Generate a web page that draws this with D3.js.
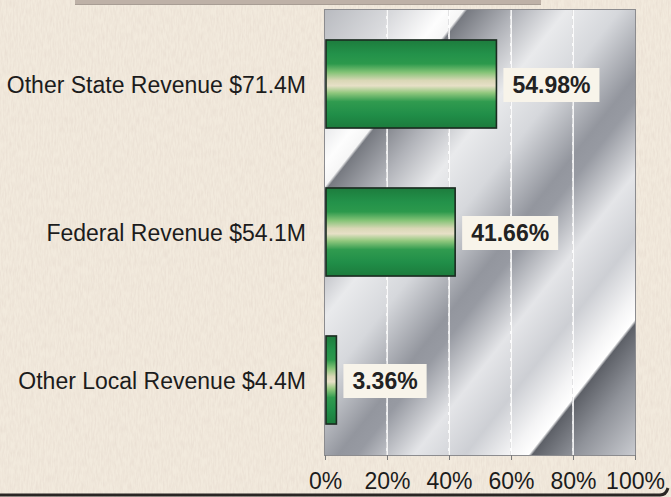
<!DOCTYPE html>
<html>
<head>
<meta charset="utf-8">
<script src="https://cdn.jsdelivr.net/npm/d3@7"></script>
<style>
  html, body { margin: 0; padding: 0; background: #f2eadd; }
  svg { display: block; }
</style>
</head>
<body>
<div id="container"></div>
<script>
// revenue share by source
const categories = ["Other State Revenue $71.4M", "Federal Revenue $54.1M", "Other Local Revenue $4.4M"];
const shares = [54.98, 41.66, 3.36];
const tickValues = [0, 20, 40, 60, 80, 100];

// constants
const width = 671,
  height = 497,
  plot = { left: 325, right: 635, top: 10, bottom: 455 };

const data = categories.map((c, i) => ({ category: c, share: shares[i] }));

const svg = d3.select("#container")
  .append("svg")
  .attr("width", width)
  .attr("height", height)
  .style("font-family", "'Liberation Sans', Arial, sans-serif");

const defs = svg.append("defs");

// linen-ish paper texture
const paper = defs.append("filter").attr("id", "paper")
  .attr("x", 0).attr("y", 0).attr("width", "100%").attr("height", "100%");
paper.append("feTurbulence")
  .attr("type", "fractalNoise")
  .attr("baseFrequency", "0.6 0.12")
  .attr("numOctaves", 2)
  .attr("seed", 4);
paper.append("feColorMatrix")
  .attr("values", "0 0 0 0 0.62  0 0 0 0 0.5  0 0 0 0 0.45  0 0 0 -1.1 0.75");

// metallic diagonal backdrop of the plot area
const t = d => d / 519;
const nx = 0.786, ny = 0.618;
const metal = defs.append("linearGradient").attr("id", "metal")
  .attr("gradientUnits", "userSpaceOnUse")
  .attr("x1", plot.left).attr("y1", plot.top)
  .attr("x2", plot.left + nx * 519).attr("y2", plot.top + ny * 519);
[
  [0, "#b9bbc0"], [55, "#d9dadd"], [95, "#fdfdfd"], [109, "#f6f6f6"],
  [112, "#777a81"], [150, "#b1b3b9"], [190, "#e9eaec"], [232, "#d6d8dc"],
  [285, "#93969e"], [300, "#979aa2"], [345, "#e4e5e8"], [385, "#cdcfd4"], [420, "#f4f4f5"],
  [435, "#ffffff"], [438, "#5e6168"], [470, "#8f9299"], [519, "#c9cbd0"]
].forEach(([o, c]) => metal.append("stop").attr("offset", t(o)).attr("stop-color", c));

// green tube look of the bars
const tube = defs.append("linearGradient").attr("id", "tube")
  .attr("x1", 0).attr("y1", 0).attr("x2", 0).attr("y2", 1);
[
  [0, "#1d7c3d"], [0.16, "#23924a"], [0.27, "#2c994c"], [0.37, "#86c478"],
  [0.46, "#d9d7b6"], [0.52, "#e7e0c7"], [0.6, "#92c87e"], [0.7, "#309b4f"],
  [0.85, "#208e48"], [1, "#1c7b3c"]
].forEach(([o, c]) => tube.append("stop").attr("offset", o).attr("stop-color", c));

// background
svg.append("rect").attr("width", width).attr("height", height).attr("fill", "#f2eadd");
svg.append("rect").attr("width", width).attr("height", height).attr("filter", "url(#paper)").attr("opacity", 0.35);

// edge of a title box above, cut off by the crop
svg.append("rect").attr("x", 75).attr("y", 0).attr("width", 466).attr("height", 4).attr("fill", "#beb1a7");
svg.append("line").attr("x1", 75).attr("x2", 541).attr("y1", 4.5).attr("y2", 4.5).attr("stroke", "#a89d94");

// frame bottom edge
svg.append("path")
  .attr("d", `M0,495 L660,495 Q666,495 668,488`)
  .attr("fill", "none").attr("stroke", "#2a2624").attr("stroke-width", 3);

// scales
const xScale = d3.scaleLinear()
  .domain([0, 100])
  .range([plot.left, plot.right]);

const yScale = d3.scaleBand()
  .domain(categories)
  .range([plot.top, plot.bottom - 1])
  .paddingInner(0.405)
  .paddingOuter(0.2025);

// plot area
svg.append("rect")
  .attr("x", plot.left).attr("y", plot.top)
  .attr("width", plot.right - plot.left).attr("height", plot.bottom - plot.top)
  .attr("fill", "url(#metal)");

// gridlines
const grid = svg.append("g").attr("class", "grid");
grid.selectAll("line.gw")
  .data(tickValues.slice(1, -1))
  .join("line")
  .attr("class", "gw")
  .attr("x1", d => xScale(d)).attr("x2", d => xScale(d))
  .attr("y1", plot.top).attr("y2", plot.bottom)
  .attr("stroke", "#ffffff").attr("stroke-width", 2).attr("opacity", 0.85);
grid.selectAll("line.gd")
  .data(tickValues.slice(1, -1))
  .join("line")
  .attr("class", "gd")
  .attr("x1", d => xScale(d) - 0.5).attr("x2", d => xScale(d) - 0.5)
  .attr("y1", plot.top).attr("y2", plot.bottom)
  .attr("stroke", "#8e8f94").attr("stroke-width", 0.6).attr("opacity", 0.4)
  .attr("stroke-dasharray", "6,3");

svg.append("rect")
  .attr("x", plot.left - 0.5).attr("y", plot.top - 0.5)
  .attr("width", plot.right - plot.left + 1).attr("height", plot.bottom - plot.top + 1)
  .attr("fill", "none").attr("stroke", "#8c8c8f").attr("stroke-width", 1);

// bars
svg.selectAll(".bar")
  .data(data)
  .join("rect")
  .attr("class", "bar")
  .attr("x", xScale(0) + 1)
  .attr("y", d => yScale(d.category))
  .attr("width", d => xScale(d.share) - xScale(0))
  .attr("height", yScale.bandwidth())
  .attr("fill", "url(#tube)")
  .attr("stroke", "#1b2a20")
  .attr("stroke-width", 1.6);

// value labels in boxes
const labels = svg.selectAll(".value")
  .data(data)
  .join("g")
  .attr("class", "value")
  .attr("transform", d => `translate(${xScale(d.share) + 8}, ${yScale(d.category) + yScale.bandwidth() / 2 + 1})`);

labels.append("rect")
  .attr("fill", "#f8f4ea");

labels.append("text")
  .attr("x", 9)
  .attr("dy", "0.36em")
  .attr("font-size", 23)
  .attr("font-weight", "bold")
  .attr("fill", "#222")
  .text(d => d.share.toFixed(2) + "%");

labels.each(function () {
  const g = d3.select(this);
  const w = g.select("text").node().getBBox().width;
  g.select("rect")
    .attr("x", 0).attr("y", -17)
    .attr("width", w + 18).attr("height", 34);
});

// category labels
svg.selectAll(".cat")
  .data(data)
  .join("text")
  .attr("class", "cat")
  .attr("x", 306)
  .attr("y", d => yScale(d.category) + yScale.bandwidth() / 2 + 1)
  .attr("dy", "0.36em")
  .attr("text-anchor", "end")
  .attr("font-size", 23)
  .attr("fill", "#1c1c1c")
  .text(d => d.category);

// x axis
const xAxis = d3.axisBottom(xScale)
  .tickValues(tickValues)
  .tickFormat(d => d + "%")
  .tickSize(5)
  .tickPadding(13);

const xAxisGroup = svg.append("g")
  .attr("class", "xAxis")
  .attr("transform", `translate(0, ${plot.bottom})`)
  .call(xAxis);

xAxisGroup.select(".domain").remove();
xAxisGroup.selectAll(".tick line").attr("stroke", "#7a7a7a");
xAxisGroup.selectAll(".tick text")
  .attr("font-size", 23)
  .attr("font-family", "'Liberation Sans', Arial, sans-serif")
  .attr("fill", "#1c1c1c");
</script>
</body>
</html>
